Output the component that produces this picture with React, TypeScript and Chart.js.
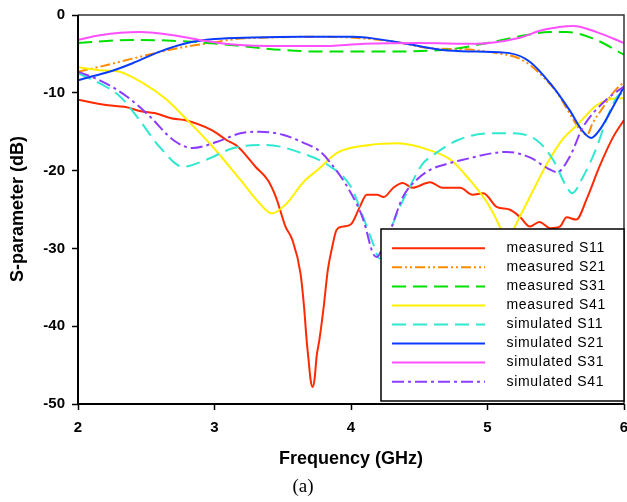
import React, { useEffect, useRef } from 'react';
import { Chart, registerables } from 'chart.js';

Chart.register(...registerables);

// ---- data (frequency in GHz, S-parameter in dB) ----
const F_MEAS_S11 = [2.0, 2.22, 2.34, 2.47, 2.56, 2.69, 2.78, 2.98, 3.09, 3.17, 3.3, 3.39, 3.45, 3.52, 3.57, 3.63, 3.656, 3.675, 3.69, 3.705, 3.719, 3.733, 3.748, 3.768, 3.8, 3.83, 3.86, 3.895, 3.94, 4.0, 4.066, 4.115, 4.19, 4.24, 4.31, 4.38, 4.45, 4.58, 4.67, 4.8, 4.89, 4.97, 5.07, 5.16, 5.24, 5.31, 5.38, 5.46, 5.53, 5.58, 5.65, 5.73, 5.82, 5.92, 6.0];
const D_MEAS_S11 = [-10.9, -11.6, -11.8, -12.4, -12.6, -13.3, -13.5, -14.8, -16.1, -16.9, -19.5, -21.2, -23.4, -27.2, -28.9, -33.2, -37.5, -41.8, -44.5, -47, -47.8, -46.8, -43.9, -41.8, -37.5, -32.8, -30, -27.6, -27.2, -26.9, -24.6, -23.1, -23.1, -23.4, -22.2, -21.6, -22.2, -21.5, -22.2, -22.2, -23.1, -22.9, -24.7, -25, -26, -27.2, -26.6, -27.4, -27.2, -26, -26.3, -23.5, -19.5, -15.7, -13.5];

const F_MEAS_S21 = [2.0, 2.22, 2.4, 2.59, 2.78, 3.0, 3.15, 3.4, 3.7, 4.0, 4.3, 4.6, 4.82, 5.07, 5.22, 5.31, 5.41, 5.51, 5.6, 5.68, 5.73, 5.77, 5.85, 5.92, 6.0];
const D_MEAS_S21 = [-7.3, -6.4, -5.6, -4.8, -4.1, -3.5, -3.1, -2.9, -2.8, -2.9, -3.4, -4.3, -4.4, -4.9, -5.5, -6.4, -8.0, -10.0, -12.6, -14.8, -15.4, -13.9, -11.8, -10.0, -8.6];

const F_MEAS_S31 = [2.0, 2.4, 2.8, 3.14, 3.5, 3.77, 4.19, 4.67, 5.0, 5.22, 5.46, 5.58, 5.77, 6.0];
const D_MEAS_S31 = [-3.6, -3.2, -3.4, -3.9, -4.5, -4.7, -4.7, -4.5, -3.6, -2.8, -2.2, -2.2, -3.0, -5.1];

const F_MEAS_S41 = [2.0, 2.16, 2.28, 2.48, 2.65, 2.8, 2.99, 3.19, 3.33, 3.42, 3.53, 3.65, 3.77, 3.9, 4.14, 4.34, 4.58, 4.73, 4.87, 5.0, 5.09, 5.14, 5.19, 5.31, 5.44, 5.55, 5.66, 5.8, 5.95, 6.0];
const D_MEAS_S41 = [-6.7, -7.1, -7.2, -8.8, -10.9, -13.5, -17.0, -21.2, -24.2, -25.5, -24.2, -21.5, -19.7, -17.7, -16.7, -16.5, -17.4, -18.6, -21.2, -24.2, -27.2, -29.5, -27.6, -23.4, -19.0, -16.0, -14.1, -11.6, -10.7, -10.7];

const F_SIM_S11 = [2.0, 2.16, 2.31, 2.45, 2.6, 2.77, 2.94, 3.14, 3.38, 3.63, 3.85, 4.0, 4.09, 4.16, 4.21, 4.26, 4.31, 4.43, 4.53, 4.58, 4.78, 5.02, 5.19, 5.36, 5.48, 5.58, 5.62, 5.7, 5.8, 5.87, 5.95, 6.0];
const D_SIM_S11 = [-7.5, -8.8, -10.5, -13.5, -17.0, -19.5, -18.6, -17.1, -16.7, -17.7, -19.5, -22.1, -26.0, -29.3, -31.3, -29.5, -26.7, -22.1, -19.0, -18.3, -16.1, -15.2, -15.2, -16.1, -18.6, -22.1, -22.9, -20.8, -17.0, -13.5, -10.5, -9.9];

const F_SIM_S21 = [2.0, 2.1, 2.23, 2.4, 2.6, 2.8, 3.0, 3.28, 3.63, 4.01, 4.31, 4.67, 4.92, 5.16, 5.31, 5.46, 5.6, 5.7, 5.76, 5.82, 5.92, 6.0];
const D_SIM_S21 = [-8.4, -7.9, -7.3, -6.2, -4.7, -3.6, -3.1, -2.9, -2.8, -2.8, -3.4, -4.5, -4.7, -4.9, -6.0, -8.8, -12.2, -15.0, -15.8, -14.8, -11.8, -9.2];

const F_SIM_S31 = [2.0, 2.16, 2.45, 2.7, 2.89, 3.14, 3.5, 3.77, 4.1, 4.5, 4.92, 5.22, 5.41, 5.63, 5.8, 6.0];
const D_SIM_S31 = [-3.2, -2.6, -2.2, -2.6, -3.2, -3.8, -4.0, -4.0, -3.7, -3.6, -3.7, -3.0, -1.9, -1.4, -2.2, -3.6];

const F_SIM_S41 = [2.0, 2.16, 2.36, 2.53, 2.7, 2.84, 3.02, 3.19, 3.33, 3.5, 3.65, 3.77, 3.85, 4.0, 4.09, 4.16, 4.19, 4.23, 4.29, 4.38, 4.48, 4.58, 4.73, 4.82, 5.14, 5.31, 5.44, 5.51, 5.6, 5.7, 5.87, 6.0];
const D_SIM_S41 = [-7.3, -8.4, -10.5, -13.1, -16.1, -17.1, -16.3, -15.2, -15.0, -15.4, -16.4, -17.5, -19.0, -22.9, -26.3, -30.6, -31.1, -30.0, -27.6, -23.4, -21.2, -19.9, -19.0, -18.6, -17.6, -18.3, -19.7, -20.2, -18.3, -14.4, -10.9, -9.2];

const SERIES_LABELS = ['measured S11', 'measured S21', 'measured S31', 'measured S41', 'simulated S11', 'simulated S21', 'simulated S31', 'simulated S41'];
const X_MIN = 2;
const X_MAX = 6;
const Y_MIN = -50;
const Y_MAX = 0;
const X_TITLE = 'Frequency (GHz)';
const Y_TITLE = 'S-parameter (dB)';
const CAPTION = '(a)';

export default function App() {
  const ref = useRef<HTMLCanvasElement | null>(null);

  useEffect(() => {
    const canvas = ref.current;
    if (!canvas) return;

    const freqs = [F_MEAS_S11, F_MEAS_S21, F_MEAS_S31, F_MEAS_S41, F_SIM_S11, F_SIM_S21, F_SIM_S31, F_SIM_S41];
    const vals = [D_MEAS_S11, D_MEAS_S21, D_MEAS_S31, D_MEAS_S41, D_SIM_S11, D_SIM_S21, D_SIM_S31, D_SIM_S41];
    const styles = [
      { color: '#ff2a00', dash: [] as number[] },
      { color: '#ff8c00', dash: [10, 3, 2, 3, 2, 3] },
      { color: '#00e000', dash: [14, 7] },
      { color: '#fff000', dash: [] as number[] },
      { color: '#30e8d0', dash: [14, 7] },
      { color: '#0a3cff', dash: [] as number[] },
      { color: '#ff50ff', dash: [] as number[] },
      { color: '#8c3cff', dash: [12, 4, 3, 4] },
    ];

    const datasets = SERIES_LABELS.map((label, i) => ({
      label,
      data: freqs[i].map((x, j) => ({ x, y: vals[i][j] })),
      borderColor: styles[i].color,
      backgroundColor: styles[i].color,
      borderWidth: 2,
      borderDash: styles[i].dash,
      pointRadius: 0,
      fill: false,
      cubicInterpolationMode: 'monotone' as const,
      order: 8 - i,
    }));

    const framePlugin = {
      id: 'frame',
      afterDatasetsDraw(chart: any) {
        const { ctx, chartArea: a } = chart;
        ctx.save();
        ctx.strokeStyle = '#333';
        ctx.lineWidth = 1.5;
        ctx.beginPath();
        ctx.moveTo(a.left, a.top);
        ctx.lineTo(a.right, a.top);
        ctx.lineTo(a.right, a.bottom);
        ctx.stroke();
        ctx.strokeStyle = '#000';
        ctx.lineWidth = 2;
        ctx.beginPath();
        ctx.moveTo(a.left, a.top);
        ctx.lineTo(a.left, a.bottom);
        ctx.lineTo(a.right, a.bottom);
        ctx.stroke();
        ctx.restore();
      },
    };

    const overlayPlugin = {
      id: 'overlay',
      afterDraw(chart: any) {
        const { ctx, chartArea: a } = chart;
        ctx.save();
        // legend box
        const lx = 381, ly = 229, lw = a.right - 381, lh = 172;
        ctx.fillStyle = '#fff';
        ctx.fillRect(lx, ly, lw, lh);
        ctx.strokeStyle = '#000';
        ctx.lineWidth = 1.5;
        ctx.strokeRect(lx, ly, lw, lh);
        ctx.font = '14px "Liberation Sans", Arial, sans-serif';
        ctx.textBaseline = 'middle';
        ctx.textAlign = 'left';
        try { (ctx as any).letterSpacing = '0.7px'; } catch (e) {}
        SERIES_LABELS.forEach((label, i) => {
          const y = 248.3 + i * 19.05;
          ctx.strokeStyle = styles[i].color;
          ctx.lineWidth = 2;
          ctx.setLineDash(styles[i].dash);
          ctx.beginPath();
          ctx.moveTo(392, y);
          ctx.lineTo(485, y);
          ctx.stroke();
          ctx.setLineDash([]);
          ctx.fillStyle = '#000';
          ctx.fillText(label, 506.5, y);
        });
        try { (ctx as any).letterSpacing = '0px'; } catch (e) {}
        // axis titles
        ctx.fillStyle = '#000';
        ctx.font = 'bold 18px "Liberation Sans", Arial, sans-serif';
        ctx.textAlign = 'center';
        ctx.textBaseline = 'middle';
        ctx.fillText(X_TITLE, 351, 459);
        ctx.save();
        ctx.translate(18, 209);
        ctx.rotate(-Math.PI / 2);
        ctx.fillText(Y_TITLE, 0, 0);
        ctx.restore();
        ctx.font = '19px "Liberation Serif", "Times New Roman", serif';
        ctx.fillText(CAPTION, 303, 487);
        ctx.restore();
      },
    };

    const tickFont = { family: '"Liberation Sans", Arial, sans-serif', size: 15, weight: 'bold' as const };

    const chart = new Chart(canvas, {
      type: 'line',
      data: { datasets },
      options: {
        animation: false,
        responsive: false,
        devicePixelRatio: 1,
        layout: { padding: { top: 15, right: 3, left: 0, bottom: 0 } },
        plugins: { legend: { display: false }, tooltip: { enabled: false }, title: { display: false } },
        scales: {
          x: {
            type: 'linear',
            min: X_MIN,
            max: X_MAX,
            afterFit: (s: any) => { s.height = 98; s.paddingLeft = 0; s.paddingRight = 0; },
            ticks: { stepSize: 1, color: '#000', font: tickFont, padding: 9, maxRotation: 0 },
            grid: { display: true, drawOnChartArea: false, drawTicks: true, tickLength: 6, tickColor: '#000', tickWidth: 1.5 },
            border: { display: false },
          },
          y: {
            type: 'linear',
            min: Y_MIN,
            max: Y_MAX,
            afterFit: (s: any) => { s.width = 78; s.paddingTop = 0; s.paddingBottom = 0; },
            ticks: { stepSize: 10, color: '#000', font: tickFont, padding: 7 },
            grid: { display: true, drawOnChartArea: false, drawTicks: true, tickLength: 6, tickColor: '#000', tickWidth: 1.5 },
            border: { display: false },
          },
        },
      },
      plugins: [framePlugin, overlayPlugin],
    });

    return () => chart.destroy();
  }, []);

  return (
    <div style={{ position: 'absolute', left: 0, top: 0, width: 627, height: 502, background: '#fff' }}>
      <canvas ref={ref} width={627} height={502} style={{ display: 'block' }} />
    </div>
  );
}
